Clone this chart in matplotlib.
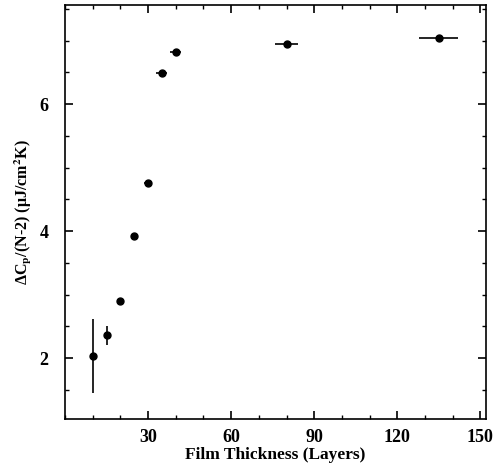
import matplotlib
matplotlib.use("Agg")
import matplotlib.pyplot as plt
from matplotlib.ticker import MultipleLocator

thickness = [10, 15, 20, 25, 30, 35, 40, 80, 135]
dcp = [2.03, 2.36, 2.90, 3.92, 4.76, 6.49, 6.82, 6.95, 7.04]
yerr = [0.58, 0.15, 0.0, 0.0, 0.0, 0.0, 0.0, 0.0, 0.0]
xerr = [0.0, 0.0, 0.0, 1.0, 1.5, 2.0, 2.0, 4.0, 7.0]
xticks = [30, 60, 90, 120, 150]
yticks = [2, 4, 6]

plt.rcParams['font.family'] = ['Liberation Serif', 'DejaVu Serif']
plt.rcParams['mathtext.fontset'] = 'stix'

fig = plt.figure(figsize=(5.02, 4.68), dpi=100)
ax = fig.add_axes([0.1295, 0.1047, 0.8385, 0.8843])

ax.errorbar(thickness, dcp, yerr=yerr, xerr=xerr, fmt='o', color='black',
            markersize=5, elinewidth=1.2, capsize=0, markerfacecolor='black')

ax.set_xlim(0, 152)
ax.set_ylim(1.04, 7.56)
ax.xaxis.set_minor_locator(MultipleLocator(10))
ax.yaxis.set_minor_locator(MultipleLocator(0.5))
ax.tick_params(which='both', direction='in', top=True, right=True)
ax.tick_params(which='major', length=6, width=1.2)
ax.tick_params(which='minor', length=3, width=1.0)
ax.tick_params(axis='x', which='major', pad=7)
ax.tick_params(axis='y', which='major', pad=12)
for s in ax.spines.values():
    s.set_linewidth(1.2)

ax.set_xticks(xticks)
ax.set_xticklabels([str(t) for t in xticks], fontweight='bold', fontsize=13)
ax.set_yticks(yticks)
ax.set_yticklabels([str(t) for t in yticks], fontweight='bold', fontsize=13)

ax.set_xlabel('Film Thickness (Layers)', fontsize=12.5, fontweight='bold', labelpad=1)
ax.set_ylabel(r'ΔC$_\mathbf{p}$/(N-2) (μJ/cm$^\mathbf{2}$K)', fontsize=11.5, fontweight='bold', labelpad=4)

fig.savefig('out.png', dpi=100)
